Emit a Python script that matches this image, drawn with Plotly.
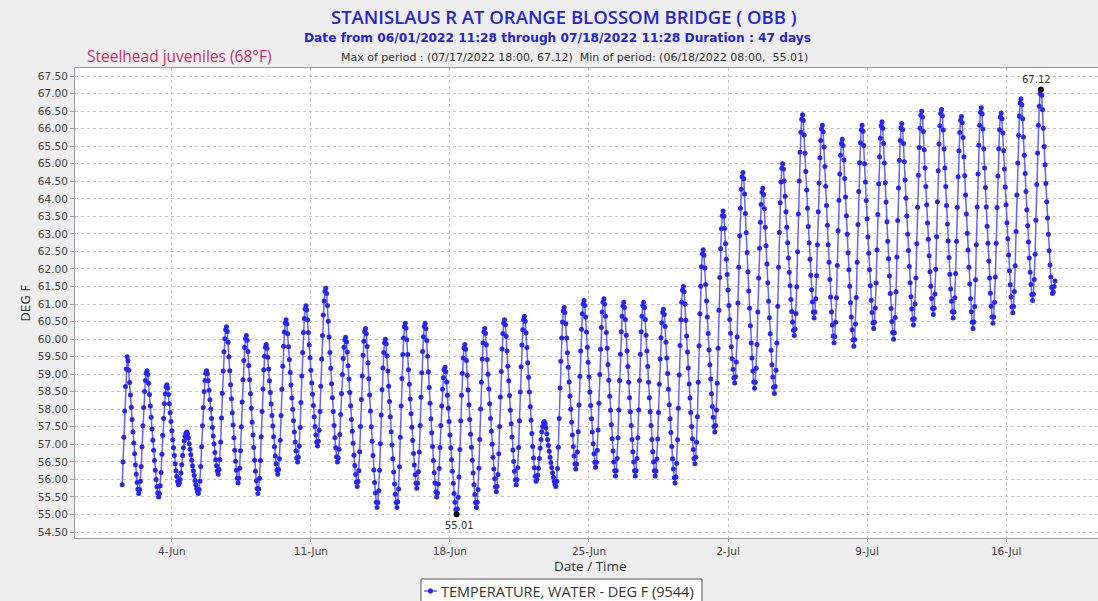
import pandas as pd
import plotly.graph_objects as go

# ---------------- data: hourly water temperature (deg F) ----------------
series_name = "TEMPERATURE, WATER - DEG F (9544)"

d0601 = [55.85, 56.5, 57.2, 57.95, 58.65, 59.15, 59.5, 59.38, 59.11, 58.76, 58.41, 58.06]  # starts 12:00
d0602 = [57.71, 57.36, 57.04, 56.73, 56.42, 56.15, 55.91, 55.72, 55.6, 55.71, 55.95, 56.37, 56.93, 57.53, 58.05, 58.51, 58.82, 59.03, 59.1, 58.99, 58.74, 58.42, 58.09, 57.77]
d0603 = [57.44, 57.12, 56.83, 56.54, 56.26, 56.0, 55.79, 55.61, 55.5, 55.6, 55.82, 56.2, 56.72, 57.26, 57.74, 58.16, 58.44, 58.64, 58.7, 58.61, 58.42, 58.16, 57.9, 57.65]
d0604 = [57.39, 57.13, 56.9, 56.68, 56.45, 56.25, 56.08, 55.94, 55.85, 55.9, 56.0, 56.18, 56.42, 56.68, 56.9, 57.1, 57.23, 57.32, 57.35, 57.3, 57.18, 57.02, 56.86, 56.7]
d0605 = [56.55, 56.39, 56.25, 56.11, 55.97, 55.85, 55.74, 55.65, 55.6, 55.71, 55.95, 56.37, 56.93, 57.53, 58.05, 58.51, 58.82, 59.03, 59.1, 59.01, 58.81, 58.54, 58.27, 58.01]
d0606 = [57.74, 57.48, 57.24, 57.01, 56.77, 56.56, 56.39, 56.24, 56.15, 56.28, 56.57, 57.07, 57.75, 58.46, 59.09, 59.64, 60.01, 60.27, 60.35, 60.22, 59.91, 59.5, 59.1, 58.7]
d0607 = [58.3, 57.9, 57.55, 57.19, 56.83, 56.52, 56.26, 56.03, 55.9, 56.03, 56.32, 56.82, 57.5, 58.21, 58.84, 59.39, 59.76, 60.02, 60.1, 59.97, 59.65, 59.25, 58.84, 58.44]
d0608 = [58.03, 57.63, 57.27, 56.91, 56.55, 56.23, 55.96, 55.74, 55.6, 55.73, 56.03, 56.54, 57.22, 57.94, 58.58, 59.13, 59.51, 59.77, 59.85, 59.74, 59.48, 59.15, 58.81, 58.48]
d0609 = [58.15, 57.82, 57.52, 57.22, 56.93, 56.67, 56.45, 56.26, 56.15, 56.28, 56.59, 57.12, 57.82, 58.57, 59.23, 59.8, 60.2, 60.46, 60.55, 60.43, 60.15, 59.78, 59.42, 59.05]
d0610 = [58.69, 58.32, 58.0, 57.67, 57.35, 57.07, 56.82, 56.62, 56.5, 56.63, 56.95, 57.48, 58.19, 58.95, 59.62, 60.19, 60.59, 60.86, 60.95, 60.83, 60.55, 60.19, 59.83, 59.47]
d0611 = [59.11, 58.75, 58.43, 58.11, 57.79, 57.51, 57.27, 57.07, 56.95, 57.09, 57.4, 57.94, 58.66, 59.43, 60.1, 60.69, 61.09, 61.36, 61.45, 61.3, 60.96, 60.51, 60.06, 59.62]
d0612 = [59.17, 58.73, 58.33, 57.94, 57.54, 57.19, 56.9, 56.65, 56.5, 56.61, 56.86, 57.28, 57.85, 58.45, 58.99, 59.45, 59.77, 59.98, 60.05, 59.92, 59.63, 59.24, 58.86, 58.48]
d0613 = [58.1, 57.71, 57.37, 57.03, 56.69, 56.4, 56.14, 55.93, 55.8, 55.94, 56.25, 56.79, 57.51, 58.28, 58.95, 59.54, 59.94, 60.21, 60.3, 60.15, 59.79, 59.33, 58.87, 58.41]
d0614 = [57.95, 57.5, 57.09, 56.68, 56.27, 55.91, 55.61, 55.35, 55.2, 55.34, 55.68, 56.26, 57.02, 57.84, 58.56, 59.18, 59.62, 59.9, 60.0, 59.86, 59.52, 59.09, 58.66, 58.22]
d0615 = [57.79, 57.36, 56.98, 56.59, 56.21, 55.87, 55.58, 55.34, 55.2, 55.36, 55.73, 56.36, 57.2, 58.09, 58.88, 59.56, 60.03, 60.35, 60.45, 60.31, 59.98, 59.56, 59.13, 58.71]
d0616 = [58.29, 57.87, 57.49, 57.11, 56.74, 56.41, 56.13, 55.89, 55.75, 55.89, 56.22, 56.78, 57.54, 58.34, 59.04, 59.65, 60.07, 60.36, 60.45, 60.3, 59.96, 59.51, 59.06, 58.62]
d0617 = [58.17, 57.73, 57.33, 56.94, 56.54, 56.19, 55.9, 55.65, 55.5, 55.61, 55.87, 56.31, 56.91, 57.54, 58.09, 58.57, 58.9, 59.13, 59.2, 59.07, 58.78, 58.4, 58.03, 57.65]
d0618 = [57.27, 56.9, 56.56, 56.23, 55.89, 55.6, 55.35, 55.14, 55.01, 55.16, 55.49, 56.07, 56.85, 57.67, 58.4, 59.03, 59.46, 59.75, 59.85, 59.71, 59.39, 58.97, 58.55, 58.13]
d0619 = [57.71, 57.29, 56.92, 56.55, 56.18, 55.85, 55.57, 55.34, 55.2, 55.35, 55.71, 56.32, 57.14, 58.01, 58.77, 59.43, 59.89, 60.2, 60.3, 60.16, 59.84, 59.42, 59.0, 58.58]
d0620 = [58.16, 57.74, 57.37, 57.0, 56.63, 56.3, 56.02, 55.79, 55.65, 55.8, 56.14, 56.73, 57.51, 58.35, 59.08, 59.72, 60.16, 60.45, 60.55, 60.41, 60.08, 59.66, 59.23, 58.81]
d0621 = [58.39, 57.97, 57.59, 57.21, 56.84, 56.51, 56.23, 55.99, 55.85, 55.99, 56.33, 56.91, 57.67, 58.49, 59.21, 59.83, 60.27, 60.55, 60.65, 60.51, 60.18, 59.76, 59.33, 58.91]
d0622 = [58.49, 58.07, 57.69, 57.31, 56.94, 56.61, 56.33, 56.09, 55.95, 56.0, 56.12, 56.32, 56.6, 56.89, 57.14, 57.36, 57.51, 57.62, 57.65, 57.59, 57.47, 57.3, 57.13, 56.97]
d0623 = [56.8, 56.63, 56.48, 56.34, 56.19, 56.06, 55.95, 55.86, 55.8, 55.95, 56.31, 56.92, 57.74, 58.61, 59.37, 60.03, 60.49, 60.8, 60.9, 60.76, 60.44, 60.03, 59.61, 59.2]
d0624 = [58.78, 58.37, 58.0, 57.63, 57.27, 56.94, 56.67, 56.44, 56.3, 56.44, 56.78, 57.36, 58.12, 58.94, 59.66, 60.28, 60.72, 61.0, 61.1, 60.96, 60.63, 60.2, 59.77, 59.34]
d0625 = [58.92, 58.49, 58.11, 57.73, 57.35, 57.02, 56.73, 56.49, 56.35, 56.49, 56.83, 57.41, 58.17, 58.99, 59.71, 60.33, 60.77, 61.05, 61.15, 61.0, 60.65, 60.19, 59.74, 59.28]
d0626 = [58.83, 58.37, 57.97, 57.56, 57.16, 56.81, 56.5, 56.25, 56.1, 56.25, 56.6, 57.19, 57.98, 58.82, 59.57, 60.21, 60.65, 60.95, 61.05, 60.9, 60.56, 60.11, 59.66, 59.22]
d0627 = [58.77, 58.33, 57.93, 57.54, 57.14, 56.79, 56.5, 56.25, 56.1, 56.25, 56.6, 57.19, 57.98, 58.82, 59.57, 60.21, 60.65, 60.95, 61.05, 60.9, 60.56, 60.11, 59.66, 59.22]
d0628 = [58.77, 58.33, 57.93, 57.54, 57.14, 56.79, 56.5, 56.25, 56.1, 56.24, 56.58, 57.15, 57.91, 58.71, 59.43, 60.04, 60.47, 60.76, 60.85, 60.7, 60.36, 59.91, 59.46, 59.02]
d0629 = [58.57, 58.13, 57.73, 57.34, 56.94, 56.59, 56.3, 56.05, 55.9, 56.07, 56.46, 57.13, 58.03, 58.98, 59.82, 60.55, 61.05, 61.39, 61.5, 61.35, 61.0, 60.54, 60.09, 59.63]
d0630 = [59.18, 58.72, 58.32, 57.91, 57.51, 57.16, 56.85, 56.6, 56.45, 56.63, 57.06, 57.79, 58.77, 59.81, 60.72, 61.51, 62.06, 62.43, 62.55, 62.39, 62.03, 61.56, 61.09, 60.63]
d0701 = [60.16, 59.69, 59.27, 58.86, 58.44, 58.08, 57.77, 57.51, 57.35, 57.54, 57.98, 58.74, 59.74, 60.82, 61.76, 62.58, 63.15, 63.52, 63.65, 63.5, 63.16, 62.72, 62.28, 61.84]
d0702 = [61.4, 60.96, 60.56, 60.17, 59.78, 59.44, 59.14, 58.9, 58.75, 58.93, 59.35, 60.07, 61.03, 62.05, 62.95, 63.73, 64.27, 64.63, 64.75, 64.57, 64.14, 63.58, 63.03, 62.47]
d0703 = [61.92, 61.37, 60.88, 60.38, 59.89, 59.46, 59.09, 58.78, 58.6, 58.77, 59.17, 59.85, 60.77, 61.74, 62.59, 63.33, 63.84, 64.19, 64.3, 64.12, 63.72, 63.19, 62.66, 62.14]
d0704 = [61.61, 61.08, 60.61, 60.15, 59.68, 59.27, 58.92, 58.63, 58.45, 58.65, 59.11, 59.89, 60.94, 62.05, 63.04, 63.89, 64.48, 64.87, 65.0, 64.85, 64.51, 64.07, 63.63, 63.19]
d0705 = [62.75, 62.31, 61.91, 61.52, 61.13, 60.79, 60.49, 60.25, 60.1, 60.29, 60.73, 61.49, 62.49, 63.57, 64.51, 65.33, 65.9, 66.27, 66.4, 66.23, 65.82, 65.3, 64.78, 64.25]
d0706 = [63.73, 63.21, 62.75, 62.28, 61.82, 61.41, 61.06, 60.77, 60.6, 60.77, 61.15, 61.81, 62.69, 63.63, 64.45, 65.17, 65.66, 65.99, 66.1, 65.91, 65.48, 64.92, 64.36, 63.81]
d0707 = [63.25, 62.69, 62.19, 61.7, 61.2, 60.77, 60.4, 60.09, 59.9, 60.07, 60.48, 61.18, 62.1, 63.09, 63.96, 64.71, 65.24, 65.58, 65.7, 65.52, 65.11, 64.58, 64.05, 63.52]
d0708 = [62.99, 62.46, 61.98, 61.51, 61.04, 60.63, 60.27, 59.98, 59.8, 59.99, 60.43, 61.19, 62.19, 63.27, 64.21, 65.03, 65.6, 65.97, 66.1, 65.93, 65.52, 65.0, 64.48, 63.95]
d0709 = [63.43, 62.91, 62.45, 61.98, 61.52, 61.11, 60.76, 60.47, 60.3, 60.48, 60.89, 61.6, 62.54, 63.55, 64.43, 65.2, 65.73, 66.08, 66.2, 66.01, 65.58, 65.02, 64.46, 63.91]
d0710 = [63.35, 62.79, 62.29, 61.8, 61.3, 60.87, 60.5, 60.19, 60.0, 60.18, 60.62, 61.35, 62.34, 63.38, 64.31, 65.1, 65.66, 66.03, 66.15, 65.98, 65.58, 65.06, 64.54, 64.02]
d0711 = [63.51, 62.99, 62.53, 62.07, 61.61, 61.21, 60.86, 60.57, 60.4, 60.58, 61.01, 61.74, 62.72, 63.76, 64.67, 65.46, 66.01, 66.38, 66.5, 66.33, 65.92, 65.4, 64.88, 64.35]
d0712 = [63.83, 63.31, 62.85, 62.38, 61.92, 61.51, 61.16, 60.87, 60.7, 60.88, 61.29, 61.99, 62.92, 63.92, 64.8, 65.56, 66.08, 66.43, 66.55, 66.37, 65.96, 65.42, 64.88, 64.35]
d0713 = [63.81, 63.28, 62.8, 62.33, 61.85, 61.43, 61.08, 60.78, 60.6, 60.77, 61.18, 61.87, 62.79, 63.76, 64.63, 65.37, 65.89, 66.24, 66.35, 66.17, 65.75, 65.2, 64.66, 64.11]
d0714 = [63.57, 63.02, 62.54, 62.05, 61.57, 61.15, 60.78, 60.48, 60.3, 60.49, 60.93, 61.69, 62.69, 63.77, 64.71, 65.53, 66.1, 66.47, 66.6, 66.42, 65.99, 65.43, 64.88, 64.32]
d0715 = [63.77, 63.22, 62.73, 62.23, 61.74, 61.31, 60.94, 60.63, 60.45, 60.63, 61.05, 61.77, 62.73, 63.75, 64.65, 65.43, 65.97, 66.33, 66.45, 66.28, 65.88, 65.37, 64.85, 64.34]
d0716 = [63.83, 63.32, 62.86, 62.4, 61.95, 61.55, 61.21, 60.92, 60.75, 60.93, 61.36, 62.09, 63.07, 64.11, 65.02, 65.81, 66.36, 66.73, 66.85, 66.68, 66.28, 65.76, 65.24, 64.72]
d0717 = [64.21, 63.69, 63.23, 62.77, 62.31, 61.91, 61.56, 61.27, 61.1, 61.28, 61.7, 62.42, 63.39, 64.41, 65.31, 66.1, 66.64, 67.0, 67.12, 66.95, 66.54, 66.01, 65.49, 64.97]
d0718 = [64.44, 63.92, 63.45, 62.99, 62.52, 62.11, 61.77, 61.47, 61.3, 61.35, 61.5, 61.66]  # ends 11:00

day_series = [
    ("2022-06-01 12:00", d0601), ("2022-06-02", d0602), ("2022-06-03", d0603), ("2022-06-04", d0604),
    ("2022-06-05", d0605), ("2022-06-06", d0606), ("2022-06-07", d0607), ("2022-06-08", d0608),
    ("2022-06-09", d0609), ("2022-06-10", d0610), ("2022-06-11", d0611), ("2022-06-12", d0612),
    ("2022-06-13", d0613), ("2022-06-14", d0614), ("2022-06-15", d0615), ("2022-06-16", d0616),
    ("2022-06-17", d0617), ("2022-06-18", d0618), ("2022-06-19", d0619), ("2022-06-20", d0620),
    ("2022-06-21", d0621), ("2022-06-22", d0622), ("2022-06-23", d0623), ("2022-06-24", d0624),
    ("2022-06-25", d0625), ("2022-06-26", d0626), ("2022-06-27", d0627), ("2022-06-28", d0628),
    ("2022-06-29", d0629), ("2022-06-30", d0630), ("2022-07-01", d0701), ("2022-07-02", d0702),
    ("2022-07-03", d0703), ("2022-07-04", d0704), ("2022-07-05", d0705), ("2022-07-06", d0706),
    ("2022-07-07", d0707), ("2022-07-08", d0708), ("2022-07-09", d0709), ("2022-07-10", d0710),
    ("2022-07-11", d0711), ("2022-07-12", d0712), ("2022-07-13", d0713), ("2022-07-14", d0714),
    ("2022-07-15", d0715), ("2022-07-16", d0716), ("2022-07-17", d0717), ("2022-07-18", d0718),
]

x_tick_dates = ["2022-06-04", "2022-06-11", "2022-06-18", "2022-06-25", "2022-07-02", "2022-07-09", "2022-07-16"]
x_tick_labels = ["4-Jun", "11-Jun", "18-Jun", "25-Jun", "2-Jul", "9-Jul", "16-Jul"]
y_tick_values = [54.5 + 0.5 * i for i in range(27)]

title_text = "STANISLAUS R AT ORANGE BLOSSOM BRIDGE ( OBB )"
subtitle_text = "Date from 06/01/2022 11:28 through 07/18/2022 11:28 Duration : 47 days"
period_text = "Max of period : (07/17/2022 18:00, 67.12)  Min of period: (06/18/2022 08:00,  55.01)"
threshold_text = "Steelhead juveniles (68°F)"
x_title = "Date / Time"
y_title = "DEG F"

# ---------------- build the series ----------------
frames = []
for start, vals in day_series:
    frames.append(pd.DataFrame({"t": pd.date_range(start, periods=len(vals), freq="h"), "v": vals}))
df = pd.concat(frames, ignore_index=True)
imax = df["v"].idxmax()
imin = df["v"].idxmin()

# ---------------- layout helpers (pixel -> paper) ----------------
W, H = 1098, 601
ML, MR, MT, MB = 75, 0, 68, 63
PW, PH = W - ML - MR, H - MT - MB


def px(x):
    return (x - ML) / PW


def py(y):
    return (H - MB - y) / PH


BLUE = "#2424d8"
GREY = "#444444"
LINE_BLUE = "rgba(70,70,255,0.85)"
MARK_BLUE = "#2626f0"

fig = go.Figure()
fig.add_trace(go.Scatter(
    x=df["t"], y=df["v"], mode="lines+markers", name=series_name, showlegend=False,
    line=dict(color=LINE_BLUE, width=1.5),
    marker=dict(color=MARK_BLUE, size=5),
))
fig.add_trace(go.Scatter(
    x=[df["t"][imax], df["t"][imin]], y=[df["v"][imax], df["v"][imin]],
    mode="markers", marker=dict(color="#111111", size=6), showlegend=False, hoverinfo="skip",
))

fig.add_annotation(x=df["t"][imax], y=df["v"][imax], text=f"{df['v'][imax]:.2f}", showarrow=False,
                   yshift=10, xshift=-4, font=dict(family="DejaVu Sans", size=10, color="#333333"))
fig.add_annotation(x=df["t"][imin], y=df["v"][imin], text=f"{df['v'][imin]:.2f}", showarrow=False,
                   yshift=-11, xshift=3, font=dict(family="DejaVu Sans", size=10, color="#333333"))

# header texts
fig.add_annotation(xref="paper", yref="paper", x=px(564), y=py(17), text=title_text, showarrow=False,
                   xanchor="center", yanchor="middle",
                   font=dict(family="Open Sans", size=18.5, color=BLUE, weight=600))
fig.add_annotation(xref="paper", yref="paper", x=px(557), y=py(38), text=f"<b>{subtitle_text}</b>", showarrow=False,
                   xanchor="center", yanchor="middle", font=dict(family="DejaVu Sans", size=12.2, color=BLUE))
fig.add_annotation(xref="paper", yref="paper", x=px(574), y=py(57), text=period_text, showarrow=False,
                   xanchor="center", yanchor="middle", font=dict(family="DejaVu Sans", size=11, color="#333333"))
fig.add_annotation(xref="paper", yref="paper", x=px(85), y=py(56), text=threshold_text, showarrow=False,
                   xanchor="left", yanchor="middle", font=dict(family="Open Sans", size=15.5, color="#cc3068"))

# x axis title
fig.add_annotation(xref="paper", yref="paper", x=px(590), y=py(566), text=x_title, showarrow=False,
                   xanchor="center", yanchor="middle", font=dict(family="Open Sans", size=13.5, color="#333333"))

# legend box (drawn so it can run off the bottom edge like the original)
fig.add_shape(type="rect", xref="paper", yref="paper", x0=px(421), x1=px(702), y0=py(606), y1=py(579),
              line=dict(color="#555555", width=1), fillcolor="#ffffff", layer="above")
fig.add_shape(type="line", xref="paper", yref="paper", x0=px(424), x1=px(437), y0=py(591), y1=py(591),
              line=dict(color=LINE_BLUE, width=1.5), layer="above")
fig.add_shape(type="circle", xref="paper", yref="paper", x0=px(428.3), x1=px(432.7), y0=py(593.2), y1=py(588.8),
              line=dict(color=MARK_BLUE, width=1), fillcolor=MARK_BLUE, layer="above")
fig.add_annotation(xref="paper", yref="paper", x=px(439), y=py(591), text=series_name, showarrow=False,
                   xanchor="left", yanchor="middle", font=dict(family="Open Sans", size=14.5, color="#333333"))

fig.update_layout(
    width=W, height=H, autosize=False,
    margin=dict(l=ML, r=MR, t=MT, b=MB, autoexpand=False),
    paper_bgcolor="#eeeeee", plot_bgcolor="#ffffff",
    showlegend=False,
    xaxis=dict(
        type="date", range=["2022-05-30 03:00", "2022-07-20 15:00"],
        tickvals=x_tick_dates, ticktext=x_tick_labels,
        showgrid=True, gridcolor="#c4c4c4", griddash="dot", gridwidth=1,
        showline=True, linecolor="#9a9a9a", linewidth=1, mirror=True,
        ticks="outside", ticklen=3, tickcolor="#9a9a9a",
        tickfont=dict(family="DejaVu Sans", size=10.5, color=GREY),
        zeroline=False, automargin=False,
    ),
    yaxis=dict(
        range=[54.33, 67.73], tickvals=y_tick_values, tickformat=".2f",
        showgrid=True, gridcolor="#c4c4c4", griddash="dot", gridwidth=1,
        showline=True, linecolor="#9a9a9a", linewidth=1, mirror=True,
        ticks="outside", ticklen=4, tickcolor="#9a9a9a",
        tickfont=dict(family="DejaVu Sans", size=10.5, color=GREY),
        title=dict(text=y_title, standoff=4, font=dict(family="DejaVu Sans", size=12, color="#333333")),
        zeroline=False, automargin=False,
    ),
)

fig.write_html("out.html")
